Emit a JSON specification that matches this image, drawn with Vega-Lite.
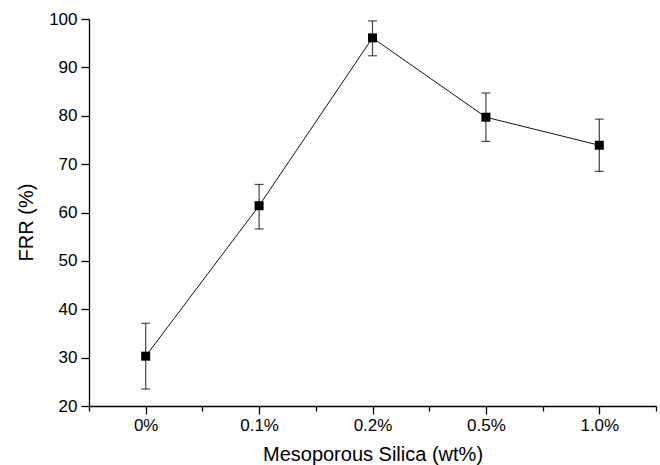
{
  "$schema": "https://vega.github.io/schema/vega-lite/v6.json",
  "width": 567,
  "height": 387,
  "autosize": "none",
  "padding": {"left": 89, "top": 19, "right": 4, "bottom": 59},
  "background": "white",
  "config": {
    "view": {"stroke": null},
    "font": "Liberation Sans",
    "axis": {
      "labelFont": "Liberation Sans",
      "titleFont": "Liberation Sans",
      "labelFontSize": 17,
      "titleFontSize": 20,
      "titleFontWeight": "normal",
      "labelColor": "black",
      "titleColor": "black",
      "domainColor": "black",
      "tickColor": "black",
      "domainWidth": 1.3,
      "tickWidth": 1.3,
      "grid": false
    }
  },
  "data": {
    "values": [
      {"idx": 0, "silica": "0%", "FRR": 30.3, "low": 23.5, "high": 37.1},
      {"idx": 1, "silica": "0.1%", "FRR": 61.4, "low": 56.6, "high": 65.8},
      {"idx": 2, "silica": "0.2%", "FRR": 96.1, "low": 92.4, "high": 99.6},
      {"idx": 3, "silica": "0.5%", "FRR": 79.7, "low": 74.7, "high": 84.7},
      {"idx": 4, "silica": "1.0%", "FRR": 73.9, "low": 68.5, "high": 79.3}
    ]
  },
  "encoding": {
    "x": {
      "field": "idx",
      "type": "quantitative",
      "scale": {"domain": [-0.5, 4.5], "nice": false, "zero": false},
      "axis": {
        "title": "Mesoporous Silica (wt%)",
        "values": [-0.5, 0, 0.5, 1, 1.5, 2, 2.5, 3, 3.5, 4, 4.5],
        "labelExpr": "datum.value % 1 === 0 ? ['0%','0.1%','0.2%','0.5%','1.0%'][datum.value] : ''",
        "tickSize": {"condition": {"test": "datum.value % 1 === 0", "value": 8}, "value": 5},
        "labelPadding": 3,
        "labelBaseline": "top",
        "titleBaseline": "middle",
        "titleY": 48,
        "titlePadding": 0
      }
    }
  },
  "layer": [
    {
      "mark": {"type": "rule", "color": "#444", "strokeWidth": 1.2},
      "encoding": {
        "y": {
          "field": "low",
          "type": "quantitative",
          "scale": {"domain": [20, 100], "nice": false, "zero": false},
          "axis": {
            "title": "FRR (%)",
            "values": [20, 25, 30, 35, 40, 45, 50, 55, 60, 65, 70, 75, 80, 85, 90, 95, 100],
            "labelExpr": "datum.value % 10 === 0 ? datum.label : ''",
            "tickSize": {"condition": {"test": "datum.value % 10 === 0", "value": 8}, "value": 5},
            "labelPadding": 4,
            "titleAngle": -90,
            "titleBaseline": "middle",
            "titleAlign": "center",
            "titleX": -63,
            "titleY": 203
          }
        },
        "y2": {"field": "high"}
      }
    },
    {
      "mark": {"type": "tick", "color": "black", "size": 9, "thickness": 1.2, "orient": "horizontal"},
      "encoding": {"y": {"field": "low", "type": "quantitative"}}
    },
    {
      "mark": {"type": "tick", "color": "black", "size": 9, "thickness": 1.2, "orient": "horizontal"},
      "encoding": {"y": {"field": "high", "type": "quantitative"}}
    },
    {
      "mark": {"type": "line", "color": "#111", "strokeWidth": 1},
      "encoding": {"y": {"field": "FRR", "type": "quantitative"}}
    },
    {
      "mark": {"type": "point", "shape": "square", "filled": true, "color": "black", "opacity": 1, "size": 81},
      "encoding": {"y": {"field": "FRR", "type": "quantitative"}}
    }
  ]
}
